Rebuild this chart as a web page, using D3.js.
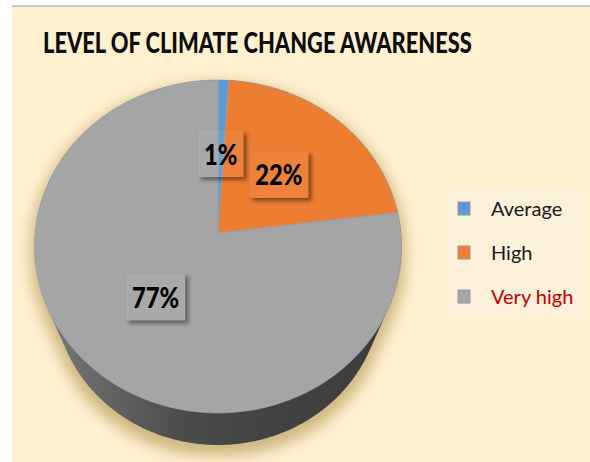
<!DOCTYPE html>
<html>
<head>
<meta charset="utf-8">
<script src="https://cdn.jsdelivr.net/npm/d3@7/dist/d3.min.js"></script>
<style>
  html, body { margin: 0; padding: 0; background: #ffffff; }
  svg { display: block; }
</style>
</head>
<body>
<svg id="chart" width="590" height="462"></svg>
<script>
// Survey results: level of climate change awareness (percent of respondents)
const categories = ["Average", "High", "Very high"];
const values = [1, 22, 77];
const sliceColors = ["#5b9bd5", "#ed7d31", "#a5a5a5"];
const legendTextColors = ["#1a1a1a", "#1a1a1a", "#c00000"];
const titleText = "LEVEL OF CLIMATE CHANGE AWARENESS";

const W = 590, H = 462;
const svg = d3.select("#chart");
const defs = svg.append("defs");

// page frame
svg.append("rect").attr("x", 12).attr("y", 5).attr("width", W - 12).attr("height", 2).attr("fill", "#c8c8c8");
svg.append("rect").attr("x", 12).attr("y", 7).attr("width", W - 12).attr("height", H - 7).attr("fill", "#fff1d0");

// title: sized to span 429px, then stretched vertically to a tall condensed look
const titleX = 43, titleBase = 53, titleWidth = 429;
const title = svg.append("text")
  .attr("x", 0).attr("y", 0)
  .attr("font-family", "Lato, 'Open Sans', sans-serif")
  .attr("font-weight", 900).attr("font-size", 28)
  .attr("fill", "#0d0d0d")
  .text(titleText);
const titleNatural = title.node().getComputedTextLength();
const titleSize = 28 * titleWidth / titleNatural;
title.attr("font-size", titleSize)
  .attr("transform", `translate(${titleX},${titleBase}) scale(1,${28 / titleSize})`);

// perspective projection of a tilted disc
const cam = { cx: 218, cy: 233, F: 964, D: 5.27, s: 0.904, c: 0.427, depth: 0.705 };
function project(theta, r, h) {
  const u = r * Math.sin(theta), v = -r * Math.cos(theta);
  const ys = v * cam.s - h * cam.c;
  const zc = cam.D - v * cam.c - h * cam.s;
  return [cam.cx + cam.F * u / zc, cam.cy + cam.F * ys / zc];
}

const pie = d3.pie().sort(null).value(d => d);
const arcs = pie(values);

// silhouette of the whole disc (top rim + bottom rim)
const rimPts = [];
for (let i = 0; i < 720; i++) {
  const a = i / 720 * 2 * Math.PI;
  rimPts.push(project(a, 1, 0));
  rimPts.push(project(a, 1, -cam.depth));
}
const hull = d3.polygonHull(rimPts);
const hullPath = "M" + hull.map(p => p.join(",")).join("L") + "Z";

// soft shadow under the disc
const shadow = defs.append("filter").attr("id", "discShadow")
  .attr("x", "-20%").attr("y", "-20%").attr("width", "140%").attr("height", "140%");
shadow.append("feMorphology").attr("operator", "dilate").attr("radius", 4).attr("in", "SourceGraphic").attr("result", "d");
shadow.append("feGaussianBlur").attr("in", "d").attr("stdDeviation", 7);

svg.append("path")
  .attr("d", hullPath)
  .attr("transform", "translate(0,7)")
  .attr("fill", "#b39a58")
  .attr("fill-opacity", 0.65)
  .attr("filter", "url(#discShadow)");

// side wall, lit from the left
const wallGrad = defs.append("linearGradient").attr("id", "wallGrad")
  .attr("gradientUnits", "userSpaceOnUse")
  .attr("x1", 33).attr("y1", 0).attr("x2", 403).attr("y2", 0);
[[0, "#7e7e7e"], [0.2, "#646464"], [0.42, "#4a4a4a"], [0.65, "#424242"], [1, "#3c3c3c"]]
  .forEach(([o, col]) => wallGrad.append("stop").attr("offset", o).attr("stop-color", col));

svg.append("path").attr("d", hullPath).attr("fill", "url(#wallGrad)");

// top face slices
function slicePath(d) {
  const n = Math.max(2, Math.ceil((d.endAngle - d.startAngle) / 0.01));
  const pts = [project(0, 0, 0)];
  for (let i = 0; i <= n; i++) {
    pts.push(project(d.startAngle + (d.endAngle - d.startAngle) * i / n, 1, 0));
  }
  return "M" + pts.map(p => p.join(",")).join("L") + "Z";
}

svg.append("g").selectAll("path")
  .data(arcs)
  .join("path")
  .attr("d", slicePath)
  .attr("fill", (d, i) => sliceColors[i])
  .attr("stroke", "#9aa3ad")
  .attr("stroke-width", 0.7)
  .attr("stroke-linejoin", "round");

// data labels with drop-shadowed boxes
const labelShadow = defs.append("filter").attr("id", "labelShadow")
  .attr("x", "-30%").attr("y", "-30%").attr("width", "160%").attr("height", "160%");
labelShadow.append("feGaussianBlur").attr("stdDeviation", 2);

const labelLayer = svg.append("g");
const condense = 0.85;
arcs.forEach((d, i) => {
  const mid = (d.startAngle + d.endAngle) / 2;
  const [lx, ly] = project(mid, 0.5, 0);
  const g = labelLayer.append("g");
  const txt = g.append("text")
    .attr("x", 0).attr("y", 0)
    .attr("text-anchor", "middle")
    .attr("font-family", "Lato, 'Open Sans', sans-serif")
    .attr("font-weight", 900).attr("font-size", 28)
    .attr("fill", "#000000")
    .text(d.data + "%");
  const tw = txt.node().getComputedTextLength() * condense;
  txt.attr("transform", `translate(${lx},${ly + 11}) scale(${condense},1)`);
  const bw = tw + 12, bh = 47;
  const bx = lx - bw / 2, by = ly - bh / 2;

  const maskId = "lm" + i;
  const m = defs.append("mask").attr("id", maskId).attr("maskUnits", "userSpaceOnUse")
    .attr("x", 0).attr("y", 0).attr("width", W).attr("height", H);
  m.append("rect").attr("x", 0).attr("y", 0).attr("width", W).attr("height", H).attr("fill", "white");
  m.append("rect").attr("x", bx).attr("y", by).attr("width", bw).attr("height", bh).attr("fill", "black");

  g.insert("rect", "text")
    .attr("x", bx + 3).attr("y", by + 3).attr("width", bw).attr("height", bh)
    .attr("fill", "#000000").attr("fill-opacity", 0.45)
    .attr("filter", "url(#labelShadow)")
    .attr("mask", "url(#" + maskId + ")");
  g.insert("rect", "text")
    .attr("x", bx).attr("y", by).attr("width", bw).attr("height", bh)
    .attr("fill", "#ffffff").attr("fill-opacity", 0.05);
});

// legend
const legend = svg.append("g");
legend.append("rect").attr("x", 448).attr("y", 188).attr("width", 135).attr("height", 129).attr("fill", "#fbf0da");
const rowY = d3.scalePoint().domain(categories).range([208.5, 296.5]);
const items = legend.selectAll("g.item").data(categories).join("g").attr("class", "item");
items.append("rect")
  .attr("x", 458).attr("y", d => rowY(d) - 6.5)
  .attr("width", 12).attr("height", 13)
  .attr("fill", (d, i) => sliceColors[i])
  .attr("stroke", "#9a9a9a").attr("stroke-width", 1);
items.append("text")
  .attr("x", 491).attr("y", d => rowY(d) + 7.5)
  .attr("font-family", "Lato, 'Open Sans', sans-serif")
  .attr("font-size", 20)
  .attr("fill", (d, i) => legendTextColors[i])
  .text(d => d);
</script>
</body>
</html>
